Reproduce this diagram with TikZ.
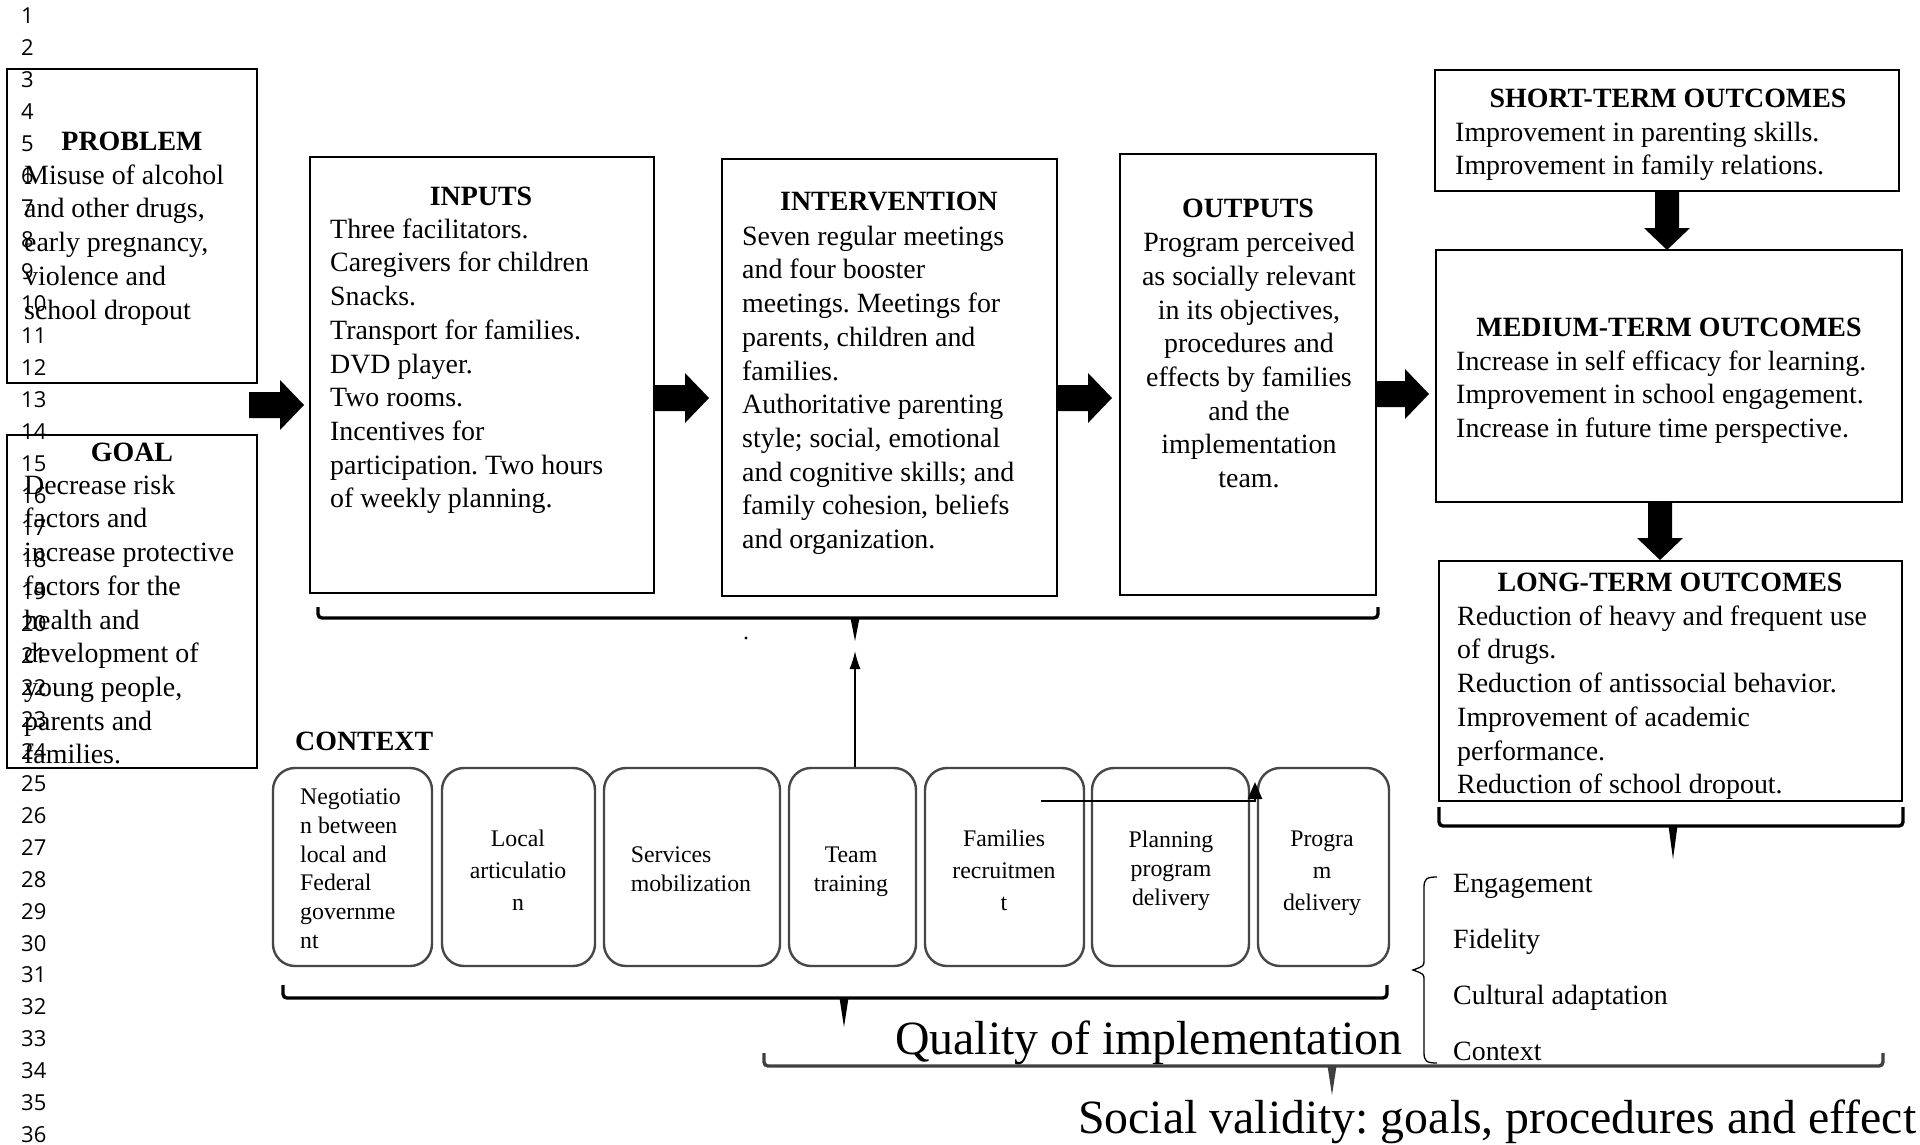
\documentclass[tikz,border=0pt]{standalone}
\usepackage{fontspec}
\setmainfont{Liberation Serif}
\newfontfamily\numfont{Open Sans}
\usetikzlibrary{arrows.meta}
\frenchspacing
\newcommand\bodyfont{\fontsize{27.9}{33.7}\selectfont}
\newcommand\ctxfont{\fontsize{23.8}{28.7}\selectfont}
\newcommand\ctxfontw{\fontsize{23.8}{31.8}\selectfont}
\newcommand\bigfont{\fontsize{47.8}{52}\selectfont}
\newcommand\fl{\rule{0pt}{24pt}}
\newcommand\fs{\rule{0pt}{20pt}}
% horizontal block arrow: xstart, xtip, ycenter
\newcommand\harrow[3]{\fill ({#1},{#3-13}) -- ({#2-24},{#3-13}) -- ({#2-24},{#3-25}) -- ({#2},{#3}) -- ({#2-24},{#3+25}) -- ({#2-24},{#3+13}) -- ({#1},{#3+13}) -- cycle;}
% vertical block arrow: xcenter, ystart, ytip
\newcommand\varrow[3]{\fill ({#1-12},{#2}) -- ({#1-12},{#3-22}) -- ({#1-23},{#3-22}) -- ({#1},{#3}) -- ({#1+23},{#3-22}) -- ({#1+12},{#3-22}) -- ({#1+12},{#2}) -- cycle;}
% bracket: x1, x2, yends, yline, xtip, ytip
\newcommand\bracebar[6]{%
  \draw[line width=3.4pt, rounded corners=4pt] ({#1},{#3}) -- ({#1},{#4}) -- ({#2},{#4}) -- ({#2},{#3});
  \fill ({#5-4.5},{#4}) -- ({#5},{#6}) -- ({#5+4.5},{#4}) -- cycle;}
\begin{document}
\begin{tikzpicture}[x=1pt,y=-1pt,
  mainbox/.style={draw, line width=2.5pt, inner sep=0},
  ctxbox/.style={draw=black!72, line width=2.4pt, rounded corners=22pt, inner sep=0, minimum height=198pt},
  ttl/.style={anchor=base, inner sep=0, font=\bodyfont\bfseries},
  bodyl/.style={anchor=north west, inner sep=0, align=left, font=\bodyfont},
  bodyc/.style={anchor=north, inner sep=0, align=center, font=\bodyfont},
  ctxl/.style={anchor=north west, inner sep=0, align=left, font=\ctxfont},
  ctxc/.style={anchor=north, inner sep=0, align=center, font=\ctxfont},
  ctxcw/.style={anchor=north, inner sep=0, align=center, font=\ctxfontw},
  numst/.style={anchor=west, inner sep=0, font=\numfont\fontsize{22}{22}\selectfont},
  listst/.style={anchor=base west, inner sep=0, font=\bodyfont},
  bigst/.style={anchor=base west, inner sep=0, font=\bigfont}
]
\fill[white] (0,0) rectangle (1920,1145);
\useasboundingbox (0,0) rectangle (1920,1145);

% ---------- main boxes ----------
\node[mainbox, minimum width=250pt, minimum height=314pt] (problem) at (132,226) {};
\node[mainbox, minimum width=250pt, minimum height=333pt] (goal) at (132,601.5) {};
\node[mainbox, minimum width=344pt, minimum height=436pt] (inputs) at (482,375) {};
\node[mainbox, minimum width=335pt, minimum height=437pt] (interv) at (889.5,377.5) {};
\node[mainbox, minimum width=256pt, minimum height=441pt] (outputs) at (1248,374.5) {};
\node[mainbox, minimum width=464pt, minimum height=121pt] (short) at (1667,130.5) {};
\node[mainbox, minimum width=466pt, minimum height=252pt] (medium) at (1669,376) {};
\node[mainbox, minimum width=463pt, minimum height=240pt] (long) at (1670.5,681) {};

% ---------- texts in main boxes ----------
\node[ttl] (problemT) at (132,151) {PROBLEM};
\node[bodyl] (problemB) at (24,160) {\fl Misuse of alcohol\\and other drugs,\\early pregnancy,\\violence and\\school dropout};

\node[ttl] (goalT) at (132,461) {GOAL};
\node[bodyl] (goalB) at (24,470) {\fl Decrease risk\\factors and\\increase protective\\factors for the\\health and\\development of\\young people,\\parents and\\families.};

\node[ttl] (inputsT) at (481,205) {INPUTS};
\node[bodyl] (inputsB) at (330,214) {\fl Three facilitators.\\Caregivers for children\\Snacks.\\Transport for families.\\DVD player.\\Two rooms.\\Incentives for\\participation. Two hours\\of weekly planning.};

\node[ttl] (intervT) at (889,211) {INTERVENTION};
\node[bodyl] (intervB) at (742,221) {\fl Seven regular meetings\\and four booster\\meetings. Meetings for\\parents, children and\\families.\\Authoritative parenting\\style; social, emotional\\and cognitive skills; and\\family cohesion, beliefs\\and organization.};

\node[ttl] (outputsT) at (1248,217) {OUTPUTS};
\node[bodyc] (outputsB) at (1249,227.5) {\fl Program perceived\\as socially relevant\\in its objectives,\\procedures and\\effects by families\\and the\\implementation\\team.};

\node[ttl] (shortT) at (1668,108) {SHORT-TERM OUTCOMES};
\node[bodyl] (shortB) at (1455,117) {\fl Improvement in parenting skills.\\Improvement in family relations.};

\node[ttl] (mediumT) at (1669,336) {MEDIUM-TERM OUTCOMES};
\node[bodyl] (mediumB) at (1456,346) {\fl Increase in self efficacy for learning.\\Improvement in school engagement.\\Increase in future time perspective.};

\node[ttl] (longT) at (1670,591) {LONG-TERM OUTCOMES};
\node[bodyl] (longB) at (1457,601) {\fl Reduction of heavy and frequent use\\of drugs.\\Reduction of antissocial behavior.\\Improvement of academic\\performance.\\Reduction of school dropout.};

% ---------- block arrows ----------
\harrow{249}{304}{405}
\harrow{655}{709}{398}
\harrow{1058}{1112}{398}
\harrow{1376}{1429}{394}
\varrow{1667}{191}{250}
\varrow{1660}{502}{560}

% ---------- brackets ----------
\bracebar{318}{1378}{607}{618}{855}{641}
\bracebar{283}{1387}{985}{998}{844}{1027}
\bracebar{1439}{1903}{807}{826}{1673}{859}
\begin{scope}[black!75]
\bracebar{764}{1883}{1053}{1066}{1332}{1095}
\end{scope}
\fill (746,638) circle (1.6);

% ---------- context ----------
\node[anchor=base west, inner sep=0, font=\bodyfont\bfseries] (contextT) at (295,750) {CONTEXT};
\node[ctxbox, minimum width=159pt] (c1) at (352.5,867) {};
\node[ctxbox, minimum width=153pt] (c2) at (518.5,867) {};
\node[ctxbox, minimum width=176pt] (c3) at (692,867) {};
\node[ctxbox, minimum width=127pt] (c4) at (852.5,867) {};
\node[ctxbox, minimum width=159pt] (c5) at (1004.5,867) {};
\node[ctxbox, minimum width=157pt] (c6) at (1170.5,867) {};
\node[ctxbox, minimum width=131pt] (c7) at (1323.5,867) {};

\node[ctxl] (c1t) at (300,784.5) {\fs Negotiatio\\n between\\local and\\Federal\\governme\\nt};
\node[ctxcw] (c2t) at (518,826.5) {\fs Local\\articulatio\\n};
\node[ctxl] (c3t) at (630.6,842.5) {\fs Services\\mobilization};
\node[ctxc] (c4t) at (851,842.5) {\fs Team\\training};
\node[ctxcw] (c5t) at (1004,826.5) {\fs Families\\recruitmen\\t};
\node[ctxc] (c6t) at (1171,827.5) {\fs Planning\\program\\delivery};
\node[ctxcw] (c7t) at (1322,826.5) {\fs Progra\\m\\delivery};

% connectors
\coordinate (bracetip) at (855,651);
\draw[line width=1.6pt, -{Latex[length=18pt,width=11pt]}] ([xshift=2.5pt]c4.north) -- (bracetip);
\coordinate (famstart) at (1041,801);
\coordinate (famend) at (1255,782);
\draw[line width=2.5pt, -{Triangle[length=17pt,width=14pt]}] (famstart) -- (famend |- famstart) -- (famend);

% ---------- quality list ----------
\draw[line width=1.3pt] (1437,877) .. controls (1426,877) and (1424,879) .. (1424,888) -- (1424,960) .. controls (1424,966) .. (1413,970) .. controls (1424,974) .. (1424,980) -- (1424,1052) .. controls (1424,1061) and (1426,1063) .. (1437,1063);
\node[listst] (eng) at (1453,892) {Engagement};
\node[listst] (fid) at (1453,948.5) {Fidelity};
\node[listst] (cult) at (1453,1004) {Cultural adaptation};
\node[listst] (ctx) at (1453,1060.5) {Context};

\node[bigst] (quality) at (895,1054) {Quality of implementation};
\node[bigst] (social) at (1078,1133) {Social validity: goals, procedures and effect};

% ---------- line numbers ----------
\foreach \n in {1,...,36} \node[numst] (ln\n) at (21,{16+(\n-1)*31.97}) {\n};
\end{tikzpicture}
\end{document}
